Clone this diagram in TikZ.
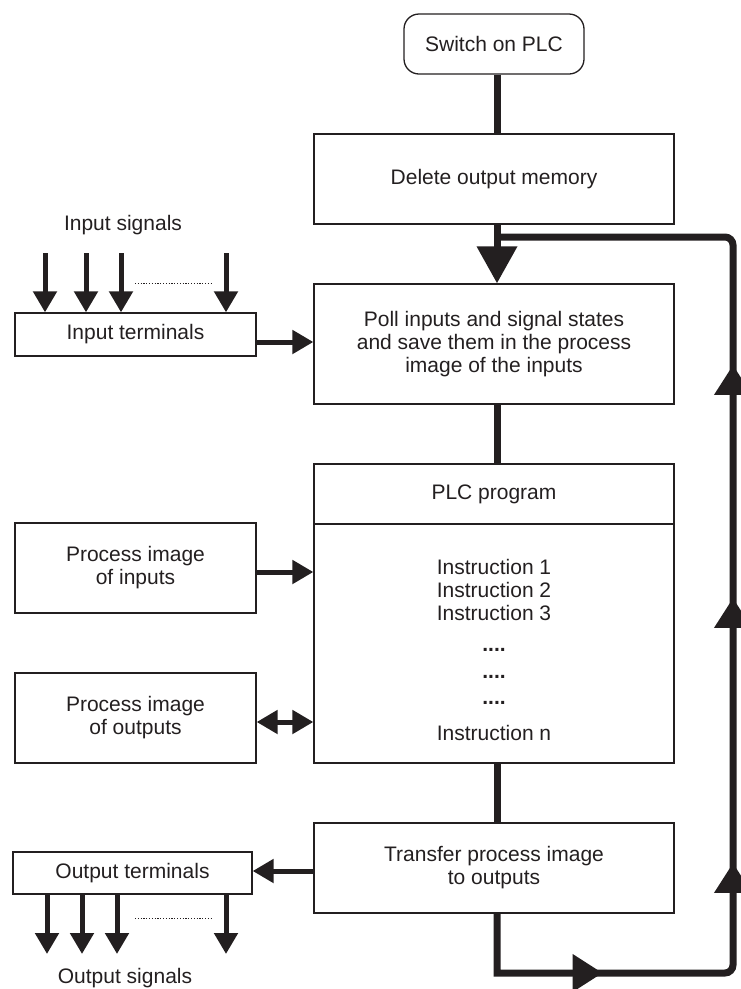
\documentclass[tikz,border=0pt]{standalone}
\usepackage{fontspec}
\setmainfont{Liberation Sans}
\usetikzlibrary{arrows.meta,decorations.markings}
\definecolor{ink}{RGB}{35,31,32}
\begin{document}
\begin{tikzpicture}[x=1pt,y=-1pt,
  >={Triangle[length=21pt,width=23pt]},
  every node/.style={font=\fontsize{21}{23}\selectfont, text=ink},
  box/.style={draw=ink, line width=1.3pt, inner sep=0pt, align=center},
  flow/.style={draw=ink, line width=7pt},
  bigtip/.style={-{Triangle[length=37pt,width=39pt]}},
  sig/.style={draw=ink, line width=5pt, ->},
  dotline/.style={draw=ink, line width=0.9pt, dash pattern=on 1.2pt off 1.6pt},
  lbl/.style={inner sep=0pt}]
\useasboundingbox (0,0) rectangle (741,989);

% main column
\node[box, rounded corners=15pt, minimum width=180pt, minimum height=60pt] (sw) at (494,44) {Switch on PLC};
\node[box, minimum width=360pt, minimum height=90pt] (del) at (494,179) {Delete output memory};
\node[box, minimum width=360pt, minimum height=120pt] (poll) at (494,344) {Poll inputs and signal states\\and save them in the process\\image of the inputs};
\node[box, minimum width=360pt, minimum height=299pt] (plc) at (494,613.5) {};
\node[box, minimum width=360pt, minimum height=90pt] (trans) at (494,868) {Transfer process image\\to outputs};

% PLC program contents
\coordinate (dv) at (0,524);
\draw[draw=ink, line width=1.3pt] (plc.west |- dv) -- (plc.east |- dv);
\node[lbl] (ptitle) at (494,494) {PLC program};
\node[lbl] (i1) at (494,567) {Instruction 1};
\node[lbl] (i2) at (494,590) {Instruction 2};
\node[lbl] (i3) at (494,613) {Instruction 3};
\node[lbl] (d1) at (494,650) {\textbf{....}};
\node[lbl] (d2) at (494,677) {\textbf{....}};
\node[lbl] (d3) at (494,703) {\textbf{....}};
\node[lbl] (in) at (494,733) {Instruction n};

% left column
\node[box, minimum width=241pt, minimum height=43pt] (inT) at (135.5,334.5) {Input terminals};
\node[box, minimum width=241pt, minimum height=90pt] (piin) at (135.5,568) {Process image\\of inputs};
\node[box, minimum width=241pt, minimum height=90pt] (piout) at (135.5,718) {Process image\\of outputs};
\node[box, minimum width=239pt, minimum height=42pt] (outT) at (132.5,873) {Output terminals};
\node (insig) at (123,225) {Input signals};
\node (outsig) at (125,978) {Output signals};

% main flow
\coordinate (mx) at (497,0);
\coordinate (tj) at (497,237);
\coordinate (bl) at (497,973);
\coordinate (br) at (733,973);
\coordinate (tr) at (733,237);
\draw[flow] (sw.south -| mx) -- (del.north -| mx);
\draw[flow, bigtip] (del.south -| mx) -- (poll.north -| mx);
\draw[flow] (poll.south -| mx) -- (plc.north -| mx);
\draw[flow] (plc.south -| mx) -- (trans.north -| mx);
\draw[flow, postaction={decorate}, decoration={markings,
    mark=at position 165pt with {\arrow{Triangle[length=30pt,width=36pt]}},
    mark=at position 402pt with {\arrow{Triangle[length=30pt,width=36pt]}},
    mark=at position 667pt with {\arrow{Triangle[length=30pt,width=36pt]}},
    mark=at position 900pt with {\arrow{Triangle[length=30pt,width=36pt]}}}]
  (trans.south -| mx) -- (bl) [rounded corners=8pt] -- (br) -- (tr) -- (tj);

% input signals
\coordinate (s1) at (45,253);
\coordinate (s2) at (86,253);
\coordinate (s3) at (121,253);
\coordinate (s4) at (226,253);
\foreach \s in {s1,s2,s3,s4} \draw[sig] (\s) -- (\s |- inT.north);
\coordinate (da) at (135,283);
\coordinate (db) at (212,283);
\draw[dotline] (da) -- (db);

% output signals
\coordinate (o1) at (47,954);
\coordinate (o2) at (82,954);
\coordinate (o3) at (117,954);
\coordinate (o4) at (226,954);
\foreach \s in {o1,o2,o3,o4} \draw[sig] (outT.south -| \s) -- (\s);
\coordinate (dc) at (135,918);
\coordinate (dd) at (212,918);
\draw[dotline] (dc) -- (dd);

% horizontal connectors
\coordinate (ya) at (0,342);
\coordinate (yb) at (0,572);
\coordinate (yc) at (0,722);
\coordinate (yd) at (0,871);
\draw[sig] (inT.east |- ya) -- (poll.west |- ya);
\draw[sig] (piin.east |- yb) -- (plc.west |- yb);
\draw[sig, <->] (piout.east |- yc) -- (plc.west |- yc);
\draw[sig] (trans.west |- yd) -- (outT.east |- yd);
\end{tikzpicture}
\end{document}
